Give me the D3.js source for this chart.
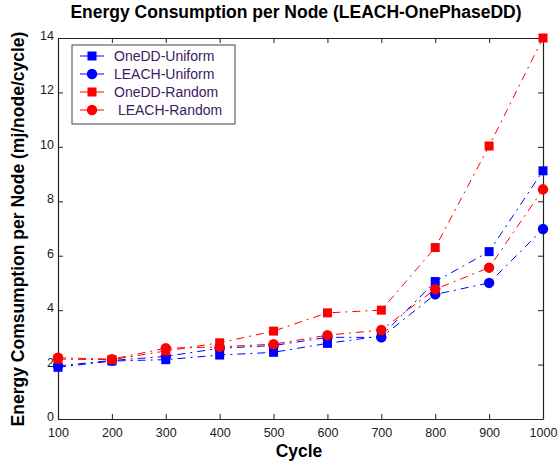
<!DOCTYPE html>
<html>
<head>
<meta charset="utf-8">
<script src="https://cdn.jsdelivr.net/npm/d3@7"></script>
<style>
  html, body { margin: 0; padding: 0; background: #fff; }
  svg { display: block; font-family: "Liberation Sans", Arial, sans-serif; }
</style>
</head>
<body>
<svg id="chart" width="559" height="461"></svg>
<script>
// Simulation cycles on the x axis
const cycles = [100, 200, 300, 400, 500, 600, 700, 800, 900, 1000];

// Average energy consumed per node (mJ/node/cycle)
const onedUniform  = [1.90, 2.13, 2.18, 2.35, 2.45, 2.78, 3.05, 5.05, 6.15, 9.12];
const leachUniform = [1.95, 2.15, 2.30, 2.60, 2.70, 3.00, 3.00, 4.58, 5.00, 6.98];
const onedRandom   = [2.20, 2.18, 2.50, 2.80, 3.23, 3.90, 4.00, 6.30, 10.03, 14.00];
const leachRandom  = [2.25, 2.20, 2.60, 2.65, 2.75, 3.08, 3.27, 4.77, 5.56, 8.44];

const xTicks = [100, 200, 300, 400, 500, 600, 700, 800, 900, 1000];
const yTicks = [0, 2, 4, 6, 8, 10, 12, 14];

const seriesNames  = ["OneDD-Uniform", "LEACH-Uniform", "OneDD-Random", " LEACH-Random"];
const seriesColors = ["#0000ff", "#0000ff", "#ff0000", "#ff0000"];
const seriesShapes = ["square", "circle", "square", "circle"];

const series = [onedUniform, leachUniform, onedRandom, leachRandom].map((vals, i) => ({
  name: seriesNames[i], color: seriesColors[i], shape: seriesShapes[i],
  points: vals.map((v, j) => ({ x: cycles[j], y: v }))
}));

const svg = d3.select("#chart");
const m = { left: 58, right: 16, top: 38, bottom: 42 };
const W = 559, H = 461;

const x = d3.scaleLinear().domain([100, 1000]).range([m.left, W - m.right]);
const y = d3.scaleLinear().domain([0, 14]).range([H - m.bottom, m.top]);

const tickLen = 5;
const axisColor = "#222";

// Frame with inward ticks on all four sides
const gAxes = svg.append("g");
const xb = gAxes.append("g").attr("transform", `translate(0,${y(0)})`)
  .call(d3.axisBottom(x).tickValues(xTicks).tickSizeInner(-tickLen).tickSizeOuter(0).tickPadding(7).tickFormat(d3.format("d")));
const xt = gAxes.append("g").attr("transform", `translate(0,${y(14)})`)
  .call(d3.axisTop(x).tickValues(xTicks).tickSizeInner(-tickLen).tickSizeOuter(0).tickFormat(""));
const yl = gAxes.append("g").attr("transform", `translate(${x(100)},0)`)
  .call(d3.axisLeft(y).tickValues(yTicks).tickSizeInner(-tickLen).tickSizeOuter(0).tickPadding(4).tickFormat(d3.format("d")));
const yr = gAxes.append("g").attr("transform", `translate(${x(1000)},0)`)
  .call(d3.axisRight(y).tickValues(yTicks).tickSizeInner(-tickLen).tickSizeOuter(0).tickFormat(""));

[xb, xt, yl, yr].forEach(g => {
  g.select(".domain").attr("stroke", axisColor).attr("stroke-width", 1.2);
  g.selectAll(".tick line").attr("stroke", axisColor).attr("stroke-width", 1);
  g.selectAll(".tick text").attr("fill", "#1a1a1a").attr("font-size", 12.5)
    .attr("font-family", "'Liberation Sans', Arial, sans-serif");
});
xb.selectAll(".tick text").attr("dy", "0.85em");
yl.selectAll(".tick text").attr("dy", "0.12em");

// Series lines (dash-dot) and markers
const line = d3.line().x(d => x(d.x)).y(d => y(d.y));
const plot = svg.append("g");

function drawMarker(g, shape, color, cx, cy) {
  if (shape === "square") {
    g.append("rect").attr("x", cx - 4.5).attr("y", cy - 4.5).attr("width", 9).attr("height", 9)
      .attr("fill", color);
  } else {
    g.append("circle").attr("cx", cx).attr("cy", cy).attr("r", 5.2).attr("fill", color);
  }
}

series.forEach(s => {
  plot.append("path").datum(s.points).attr("d", line)
    .attr("fill", "none").attr("stroke", s.color).attr("stroke-width", 1)
    .attr("stroke-dasharray", "8,5,2,5");
});
series.forEach(s => {
  const g = plot.append("g");
  s.points.forEach(p => drawMarker(g, s.shape, s.color, x(p.x), y(p.y)));
});

// Legend
const lg = svg.append("g").attr("transform", "translate(72,45)");
lg.append("rect").attr("width", 163).attr("height", 79)
  .attr("fill", "#fff").attr("stroke", "#444").attr("stroke-width", 1);
series.forEach((s, i) => {
  const ry = 11 + i * 18;
  lg.append("line").attr("x1", 8).attr("x2", 32).attr("y1", ry).attr("y2", ry)
    .attr("stroke", s.color).attr("stroke-width", 1);
  drawMarker(lg, s.shape, s.color, 20, ry);
  lg.append("text").attr("x", 42).attr("y", ry).attr("dy", "0.35em")
    .attr("font-size", 14).attr("fill", "#3a2060").style("white-space", "pre")
    .text(s.name);
});

// Titles
svg.append("text").attr("x", 296).attr("y", 18)
  .attr("text-anchor", "middle").attr("font-size", 17.5).attr("font-weight", "bold")
  .attr("fill", "#000").text("Energy Consumption per Node (LEACH-OnePhaseDD)");
svg.append("text").attr("x", 299).attr("y", 457)
  .attr("text-anchor", "middle").attr("font-size", 17.5).attr("font-weight", "bold")
  .attr("fill", "#000").text("Cycle");
svg.append("text").attr("transform", `translate(24,229) rotate(-90)`)
  .attr("text-anchor", "middle").attr("font-size", 17.5).attr("font-weight", "bold")
  .attr("fill", "#000").text("Energy Comsumption per Node (mj/node/cycle)");
</script>
</body>
</html>
